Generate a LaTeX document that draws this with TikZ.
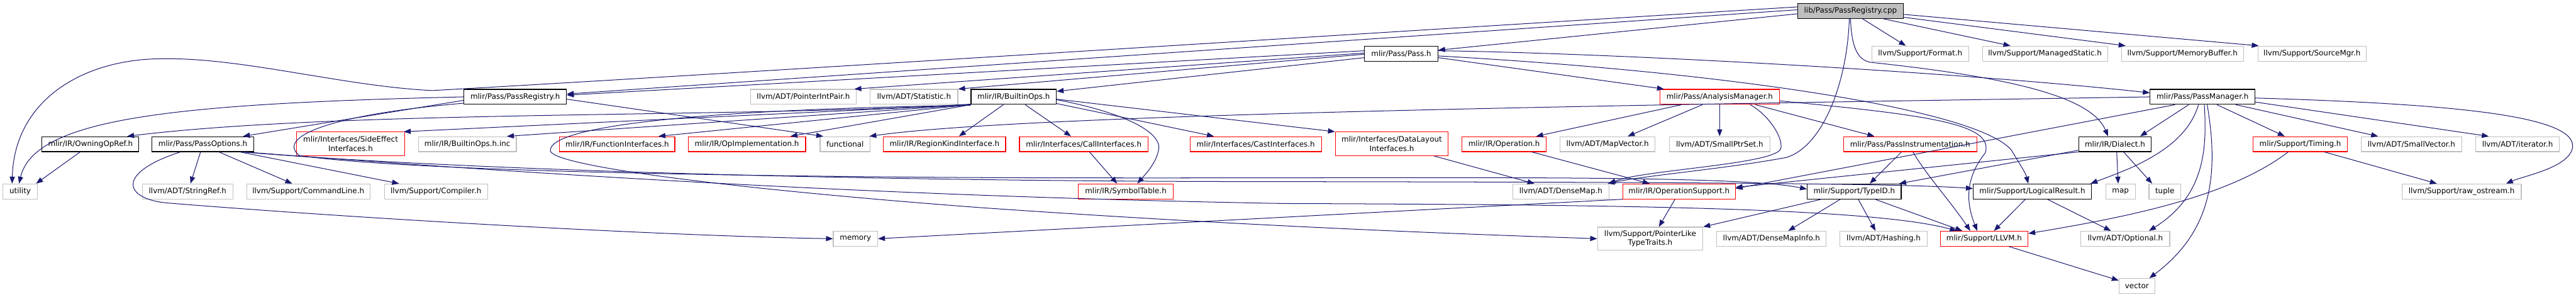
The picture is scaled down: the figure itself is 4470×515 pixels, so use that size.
\documentclass[tikz,border=0pt]{standalone}
\usepackage{fontspec}
\setmainfont{DejaVu Sans}
\usetikzlibrary{arrows.meta,calc}
\definecolor{edgec}{HTML}{191970}
\definecolor{extc}{HTML}{BFBFBF}
\definecolor{truncc}{HTML}{FF0000}
\begin{document}
\begin{tikzpicture}[x=1pt,y=-1pt,
  box/.style={draw, line width=1.2pt, fill=white, inner sep=0pt, minimum height=26pt,
    font=\fontsize{13}{15.5}\selectfont, text=black, align=center},
  intn/.style={box, draw=black},
  extn/.style={box, draw=extc},
  trunc/.style={box, draw=truncc},
  rootn/.style={box, draw=black, fill=extc},
  tall/.style={minimum height=41pt},
  e/.style={draw=edgec, line width=1.1pt, -{Triangle[length=12pt,width=9pt]}}]
\fill[white] (0,0) rectangle (4470,515);
\useasboundingbox (0,0) rectangle (4470,515);
% row 0
\node[rootn, minimum width=184pt] (cpp) at (3211,19) {lib/Pass/PassRegistry.cpp};
% row 1
\node[intn, minimum width=127pt] (passh) at (2431.5,93) {mlir/Pass/Pass.h};
\node[extn, minimum width=168pt] (format) at (3332,93) {llvm/Support/Format.h};
\node[extn, minimum width=217pt] (managed) at (3548.5,93) {llvm/Support/ManagedStatic.h};
\node[extn, minimum width=212pt] (membuf) at (3787,93) {llvm/Support/MemoryBuffer.h};
\node[extn, minimum width=188pt] (srcmgr) at (4012,93) {llvm/Support/SourceMgr.h};
% row 2
\node[intn, minimum width=178pt] (preg) at (894,168) {mlir/Pass/PassRegistry.h};
\node[extn, minimum width=184pt] (pip) at (1394,168) {llvm/ADT/PointerIntPair.h};
\node[extn, minimum width=152pt] (stat) at (1586,168) {llvm/ADT/Statistic.h};
\node[intn, minimum width=148pt] (bops) at (1759,168) {mlir/IR/BuiltinOps.h};
\node[trunc, minimum width=208pt] (anam) at (2984,168) {mlir/Pass/AnalysisManager.h};
\node[intn, minimum width=182pt] (pman) at (3822,168) {mlir/Pass/PassManager.h};
% row 3
\node[intn, minimum width=168pt] (owning) at (157,250) {mlir/IR/OwningOpRef.h};
\node[intn, minimum width=176pt] (popts) at (352,250) {mlir/Pass/PassOptions.h};
\node[trunc, tall, minimum width=187pt] (sideeff) at (608.5,249.5) {mlir/Interfaces/SideEffect\\Interfaces.h};
\node[extn, minimum width=170pt] (binc) at (811,250) {mlir/IR/BuiltinOps.h.inc};
\node[trunc, minimum width=200pt] (funci) at (1071,250) {mlir/IR/FunctionInterfaces.h};
\node[trunc, minimum width=204pt] (opimpl) at (1296,250) {mlir/IR/OpImplementation.h};
\node[extn, minimum width=87pt] (functional) at (1466.5,250) {functional};
\node[trunc, minimum width=212pt] (regkind) at (1639,250) {mlir/IR/RegionKindInterface.h};
\node[trunc, minimum width=223pt] (calli) at (1880.5,250) {mlir/Interfaces/CallInterfaces.h};
\node[trunc, minimum width=228pt] (casti) at (2179,250) {mlir/Interfaces/CastInterfaces.h};
\node[trunc, tall, minimum width=196pt] (datal) at (2415,249.5) {mlir/Interfaces/DataLayout\\Interfaces.h};
\node[trunc, minimum width=146pt] (oper) at (2610,250) {mlir/IR/Operation.h};
\node[extn, minimum width=165pt] (mapvec) at (2789.5,250) {llvm/ADT/MapVector.h};
\node[extn, minimum width=174pt] (smallptr) at (2984,250) {llvm/ADT/SmallPtrSet.h};
\node[trunc, minimum width=231pt] (pinstr) at (3314.5,250) {mlir/Pass/PassInstrumentation.h};
\node[intn, minimum width=126pt] (dialect) at (3670,250) {mlir/IR/Dialect.h};
\node[trunc, minimum width=163pt] (timing) at (3991.5,250) {mlir/Support/Timing.h};
\node[extn, minimum width=175pt] (smallvec) at (4184.5,250) {llvm/ADT/SmallVector.h};
\node[extn, minimum width=145pt] (iter) at (4368.5,250) {llvm/ADT/iterator.h};
% row 4
\node[extn, minimum width=60pt] (utility) at (35,332) {utility};
\node[extn, minimum width=157pt] (strref) at (325.5,332) {llvm/ADT/StringRef.h};
\node[extn, minimum width=214pt] (cmdline) at (535,332) {llvm/Support/CommandLine.h};
\node[extn, minimum width=179pt] (compiler) at (756.5,332) {llvm/Support/Compiler.h};
\node[trunc, minimum width=165pt] (symtab) at (1953.5,332) {mlir/IR/SymbolTable.h};
\node[extn, minimum width=167pt] (densemap) at (2708.5,332) {llvm/ADT/DenseMap.h};
\node[trunc, minimum width=195pt] (opsupp) at (2913.5,332) {mlir/IR/OperationSupport.h};
\node[intn, minimum width=163pt] (typeid) at (3217.5,332) {mlir/Support/TypeID.h};
\node[intn, minimum width=205pt] (logres) at (3526.5,332) {mlir/Support/LogicalResult.h};
\node[extn, minimum width=51pt] (map) at (3679.5,332) {map};
\node[extn, minimum width=55pt] (tuple) at (3756.5,332) {tuple};
\node[extn, minimum width=207pt] (rawos) at (4271.5,332) {llvm/Support/raw\_ostream.h};
% row 5
\node[extn, minimum width=77pt] (memory) at (1484.5,414) {memory};
\node[extn, minimum width=183pt, minimum height=40pt] (ptrlike) at (2863.5,414) {llvm/Support/PointerLike\\TypeTraits.h};
\node[extn, minimum width=190pt] (dmi) at (3074,414) {llvm/ADT/DenseMapInfo.h};
\node[extn, minimum width=151pt] (hashing) at (3268.5,414) {llvm/ADT/Hashing.h};
\node[trunc, minimum width=152pt] (llvmh) at (3443,414) {mlir/Support/LLVM.h};
\node[extn, minimum width=154pt] (optional) at (3688,414) {llvm/ADT/Optional.h};
% row 6
\node[extn, minimum width=62pt] (vector) at (3708,496) {vector};

% ---- edges from cpp
\draw[e] ($(cpp.west)+(0,-7)$) .. controls (2300,62) and (1200,132) .. (750,157) .. controls (600,150) and (420,100) .. (287,102) .. controls (150,100) and (25,170) .. ([xshift=-14pt]utility.north);
\draw[e] ($(cpp.west)+(0,-2)$) -- ($(preg.east)+(0,-5)$);
\draw[e] ($(cpp.west)+(0,5)$) -- ($(passh.east)+(0,-6)$);
\draw[e] (cpp.south) .. controls (3213,80) and (3222,103) .. (3245,108) .. controls (3500,135) and (3630,170) .. ([xshift=-12pt]dialect.north);
\draw[e] ($(cpp.south)+(-2,0)$) .. controls (3205,150) and (3160,255) .. (3100,273) .. controls (3000,292) and (2850,305) .. ($(densemap.north east)+(-3,0)$);
\draw[e] ($(cpp.south)+(21,0)$) -- ($(format.north)+(-25,0)$);
\draw[e] ($(cpp.south)+(57,0)$) -- ($(managed.north)+(-60,0)$);
\draw[e] ($(cpp.east)+(0,11)$) -- ($(membuf.north west)+(8,0)$);
\draw[e] ($(cpp.east)+(0,6)$) -- ($(srcmgr.north west)+(2,0)$);
% ---- edges from Pass.h
\draw[e] ($(passh.west)+(0,-5)$) -- ($(preg.east)+(0,-3)$);
\draw[e] ($(passh.west)+(0,-1)$) -- ($(pip.north east)+(-4,0)$);
\draw[e] ($(passh.west)+(0,1)$) -- (stat.north east);
\draw[e] ($(passh.west)+(0,7)$) -- ($(bops.north east)+(0,4)$);
\draw[e] ($(passh.east)+(0,7)$) -- ($(anam.north west)+(8,0)$);
\draw[e] ($(passh.east)+(0,-5)$) .. controls (2800,92) and (3400,125) .. ($(pman.west)+(0,-7)$);
\draw[e] ($(passh.east)+(0,4)$) .. controls (3000,125) and (3430,190) .. (3490,260) .. controls (3505,285) and (3515,300) .. ($(logres.north)+(-7,0)$);
% ---- PassRegistry.h
\draw[e] (preg.west) .. controls (300,180) and (60,205) .. ([xshift=-2pt]utility.north);
\draw[e] ($(preg.west)+(0,6)$) -- ($(popts.north east)+(-19,0)$);
\draw[e] ($(preg.east)+(0,4)$) -- ($(functional.north west)+(6,0)$);
\draw[e] ($(preg.west)+(0,11)$) .. controls (560,200) and (480,240) .. (520,270) .. controls (700,295) and (1200,305) .. (1700,308) .. controls (2400,311) and (3000,300) .. ($(typeid.west)+(0,-4)$);
% ---- PassOptions.h
\draw[e] ($(popts.south)+(-4,0)$) -- ($(strref.north)+(5,0)$);
\draw[e] ($(popts.south)+(28,0)$) -- ($(cmdline.north)+(-28,0)$);
\draw[e] ($(popts.south east)+(-24,0)$) -- ($(compiler.north west)+(26,0)$);
\draw[e] ($(popts.south)+(-39,0)$) .. controls (200,300) and (215,345) .. (290,352) .. controls (700,385) and (1200,410) .. (memory.west);
\draw[e] ($(popts.south east)+(-20,0)$) .. controls (800,295) and (1500,315) .. (2230,315) .. controls (2900,316) and (3300,318) .. ($(logres.west)+(0,-5)$);
\draw[e] ($(popts.south east)+(-16,0)$) .. controls (900,300) and (1500,340) .. (2230,353) .. controls (2800,355) and (3250,360) .. ($(llvmh.north west)+(29,0)$);
% ---- BuiltinOps.h
\draw[e] ($(bops.south west)+(0,-1)$) .. controls (1300,205) and (600,190) .. ($(owning.north east)+(-21,0)$);
\draw[e] (bops.south west) -- ($(sideeff.north east)+(-2,0)$);
\draw[e] (bops.south west) -- ($(binc.north east)+(-17,0)$);
\draw[e] (bops.south west) -- ($(funci.north east)+(-29,0)$);
\draw[e] (bops.south west) -- ($(opimpl.north east)+(-27,0)$);
\draw[e] ($(bops.south)+(-18,0)$) -- ($(regkind.north)+(25,0)$);
\draw[e] ($(bops.south)+(20,0)$) -- ($(calli.north)+(-22,0)$);
\draw[e] ($(bops.east)+(0,5)$) .. controls (1950,195) and (2020,230) .. (2010,262) .. controls (2005,285) and (1985,305) .. ($(symtab.north)+(20,0)$);
\draw[e] ($(bops.south east)+(0,-2)$) -- ($(casti.north west)+(42,0)$);
\draw[e] ($(bops.east)+(0,4)$) -- (datal.north west);
\draw[e] ($(bops.south west)+(0,1)$) .. controls (1200,190) and (950,220) .. (955,262) .. controls (965,290) and (1300,330) .. (1700,360) .. controls (2200,395) and (2600,408) .. (ptrlike.west);
% ---- misc row 3
\draw[e] ($(calli.south)+(10,0)$) -- ($(symtab.north)+(-15,0)$);
\draw[e] ($(datal.south east)+(-25,0)$) -- ($(densemap.north)+(-46,0)$);
\draw[e] ($(oper.south)+(48,0)$) -- ($(opsupp.north west)+(47,0)$);
% ---- AnalysisManager.h
\draw[e] ($(anam.south)+(-66,0)$) -- ($(oper.north east)+(-18,0)$);
\draw[e] ($(anam.south)+(-30,0)$) -- ($(mapvec.north)+(35,0)$);
\draw[e] (anam.south) -- (smallptr.north);
\draw[e] ($(anam.south)+(62,0)$) -- ($(pinstr.north)+(-62,0)$);
\draw[e] ($(anam.east)+(0,7)$) .. controls (3350,200) and (3460,215) .. (3445,265) .. controls (3405,315) and (3415,360) .. ($(llvmh.north)+(-12,0)$);
\draw[e] ($(anam.south)+(53,0)$) .. controls (3070,200) and (3095,240) .. (3090,258) .. controls (3080,285) and (2850,295) .. ($(densemap.north east)+(-1,0)$);
% ---- PassInstrumentation.h
\draw[e] ($(pinstr.south)+(-15,0)$) -- ($(typeid.north)+(27,0)$);
\draw[e] ($(pinstr.south)+(5,0)$) .. controls (3340,300) and (3385,350) .. ($(llvmh.north)+(-24,0)$);
% ---- Dialect.h
\draw[e] (dialect.south west) -- ($(opsupp.east)+(0,-7)$);
\draw[e] ($(dialect.south west)+(0,-3)$) -- ($(typeid.north east)+(-4,0)$);
\draw[e] ($(dialect.south)+(3,0)$) -- ($(map.north)+(-4,0)$);
\draw[e] ($(dialect.south)+(15,0)$) -- ($(tuple.north)+(-22,0)$);
% ---- PassManager.h
\draw[e] (pman.west) .. controls (3000,180) and (1800,195) .. ($(functional.north east)+(-2,0)$);
\draw[e] ($(pman.south)+(-48,0)$) -- ($(opsupp.east)+(0,-5)$);
\draw[e] ($(pman.south)+(-24,0)$) -- ($(dialect.north east)+(-20,0)$);
\draw[e] ($(pman.south)+(-7,0)$) .. controls (3800,230) and (3760,262) .. (3700,290) .. controls (3670,303) and (3650,310) .. ($(logres.north east)+(-2,0)$);
\draw[e] ($(pman.south)+(3,0)$) .. controls (3830,260) and (3825,340) .. ($(optional.north)+(41,0)$);
\draw[e] ($(pman.south)+(8,0)$) .. controls (3850,300) and (3840,400) .. ($(vector.north east)+(-10,0)$);
\draw[e] ($(pman.south)+(25,0)$) -- ($(timing.north)+(-27,0)$);
\draw[e] ($(pman.south east)+(-34,0)$) -- ($(smallvec.north)+(-58,0)$);
\draw[e] ($(pman.east)+(0,9)$) -- ($(iter.north)+(-50,0)$);
\draw[e] ($(pman.east)+(0,2)$) .. controls (4250,180) and (4470,200) .. (4464,255) .. controls (4460,290) and (4380,305) .. ($(rawos.north east)+(-27,0)$);
% ---- Timing.h
\draw[e] ($(timing.south)+(-21,0)$) .. controls (3870,340) and (3700,375) .. ($(llvmh.east)+(0,-9)$);
\draw[e] ($(timing.south)+(42,0)$) -- ($(rawos.north)+(-43,0)$);
% ---- row 4
\draw[e] ($(owning.south)+(-18,0)$) -- ($(utility.north east)+(-3,0)$);
\draw[e] ($(opsupp.south)+(-7,0)$) -- ($(ptrlike.north)+(15,0)$);
\draw[e] (opsupp.south west) -- (memory.east);
\draw[e] ($(typeid.south west)+(25,0)$) -- (ptrlike.north east);
\draw[e] ($(typeid.south)+(-24,0)$) -- ($(dmi.north)+(29,0)$);
\draw[e] ($(typeid.south)+(7,0)$) -- ($(hashing.north)+(-14,0)$);
\draw[e] ($(typeid.south)+(36,0)$) -- ($(llvmh.north)+(-38,0)$);
\draw[e] ($(logres.south)+(-12,0)$) -- ($(llvmh.north)+(17,0)$);
\draw[e] ($(logres.south)+(26,0)$) -- ($(optional.north)+(-25,0)$);
\draw[e] ($(llvmh.south)+(43,0)$) -- ($(vector.north west)+(0,4)$);
\end{tikzpicture}
\end{document}
